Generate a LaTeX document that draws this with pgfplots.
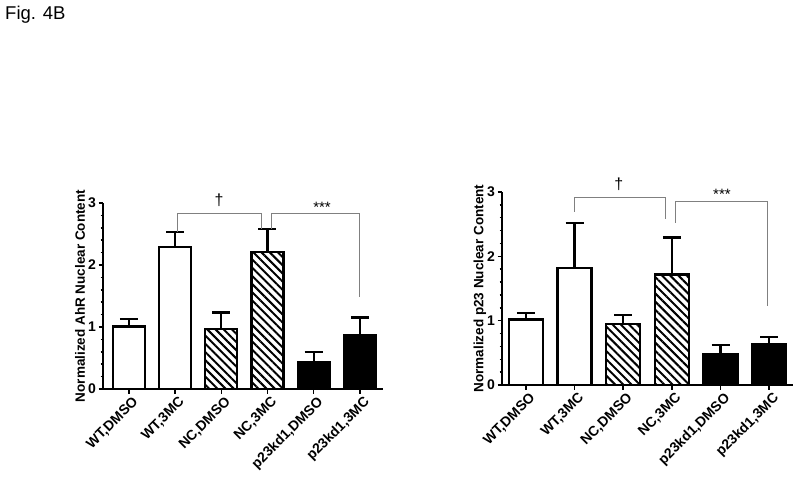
\documentclass[border=0pt]{standalone}
\usepackage{pgfplots}
\pgfplotsset{compat=1.18}
\usepackage{fontspec}
\setmainfont{Liberation Sans}
\usetikzlibrary{patterns.meta}

\pgfplotsset{
  barstyle/.style={
    scale only axis,
    anchor=south west,
    ymin=0, ymax=3,
    ytick={0,1,2,3},
    minor y tick num=4,
    xtick={1,2,3,4,5,6},
    xticklabels={{WT,DMSO},{WT,3MC},{NC,DMSO},{NC,3MC},{p23kd1,DMSO},{p23kd1,3MC}},
    axis x line*=bottom,
    axis y line*=left,
    axis line style={line width=2pt, black},
    tick align=outside,
    major tick length=4.5pt,
    minor tick length=2.5pt,
    every tick/.style={line width=1.5pt, black},
    /pgf/number format/assume math mode=true,
    yticklabel style={font=\fontsize{14}{16}\selectfont\bfseries, xshift=1pt},
    xticklabel style={font=\fontsize{14}{16}\selectfont\bfseries, rotate=45, anchor=north east, xshift=4pt, yshift=0pt},
    ylabel style={font=\fontsize{13.5}{15}\selectfont\bfseries, anchor=center},
    clip=false,
    ybar, bar shift=0pt,
    error bars/y dir=plus,
    error bars/y explicit,
    error bars/error bar style={line width=2.3pt, black},
    error bars/error mark options={rotate=90, mark size=9pt, line width=2.5pt, black},
  },
  whitebar/.style={draw=black, fill=white, line width=2.3pt},
  hatchbar/.style={draw=black, line width=2.3pt, pattern={Lines[angle=-45,distance=5.8pt,line width=2pt]}, pattern color=black},
  blackbar/.style={draw=black, fill=black, line width=2.3pt},
}

\begin{document}
\begin{tikzpicture}
\useasboundingbox (0pt,0pt) rectangle (800pt,483pt);
\node[anchor=base west, inner sep=0pt, font=\fontsize{18.5}{20}\selectfont] at (5pt,463pt) {Fig. 4B};

% Left chart
\begin{axis}[barstyle, at={(103pt,94pt)}, width=280pt, height=186pt,
  xmin=0.44, xmax=6.5, bar width=32pt,
  ylabel={Normalized AhR Nuclear Content},
  ylabel style={at={(axis description cs:-0.082,0.5)}}]
\addplot[whitebar] coordinates {(1,1.01) +- (0,0.12) (2,2.29) +- (0,0.24)};
\addplot[hatchbar] coordinates {(3,0.97) +- (0,0.26) (4,2.21) +- (0,0.37)};
\addplot[blackbar] coordinates {(5,0.44) +- (0,0.16) (6,0.87) +- (0,0.28)};
\draw[gray, line width=1pt] (axis cs:2.06,2.53) |- (axis cs:3.87,2.83) -- (axis cs:3.87,2.58);
\draw[gray, line width=1pt] (axis cs:4.09,2.58) |- (axis cs:6.0,2.83) -- (axis cs:6.0,1.48);
\node[font=\fontsize{16}{18}\selectfont] at (axis cs:2.95,3.04) {†};
\node[font=\fontsize{15}{17}\selectfont] at (axis cs:5.18,2.93) {***};
\end{axis}

% Right chart
\begin{axis}[barstyle, at={(502pt,98pt)}, width=291pt, height=193pt,
  xmin=0.51, xmax=6.49, bar width=34pt,
  ylabel={Normalized p23 Nuclear Content},
  ylabel style={at={(axis description cs:-0.076,0.5)}}]
\addplot[whitebar] coordinates {(1,1.02) +- (0,0.10) (2,1.82) +- (0,0.70)};
\addplot[hatchbar] coordinates {(3,0.95) +- (0,0.14) (4,1.72) +- (0,0.57)};
\addplot[blackbar] coordinates {(5,0.48) +- (0,0.14) (6,0.64) +- (0,0.11)};
\draw[gray, line width=1pt] (axis cs:2.0,2.69) |- (axis cs:3.86,2.91) -- (axis cs:3.86,2.58);
\draw[gray, line width=1pt] (axis cs:4.08,2.52) |- (axis cs:5.96,2.86) -- (axis cs:5.96,1.23);
\node[font=\fontsize{16}{18}\selectfont] at (axis cs:2.91,3.12) {†};
\node[font=\fontsize{15}{17}\selectfont] at (axis cs:5.03,2.96) {***};
\end{axis}
\end{tikzpicture}
\end{document}
